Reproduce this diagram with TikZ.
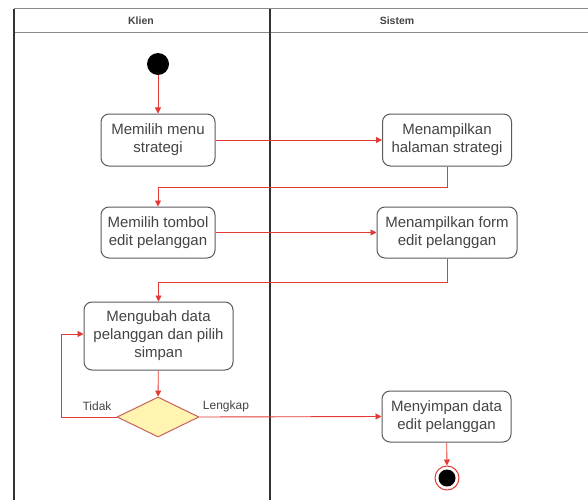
\documentclass[tikz,border=0pt]{standalone}
\usepackage{fontspec}
\setmainfont{Liberation Sans}
\usetikzlibrary{shapes.geometric,arrows.meta,calc}
\definecolor{arrowred}{HTML}{E53935}
\definecolor{boxgray}{HTML}{5A5A5A}
\definecolor{textgray}{HTML}{444444}
\definecolor{lanegray}{HTML}{8A8A8A}
\definecolor{lanedark}{HTML}{333333}
\definecolor{decfill}{HTML}{FFF4B0}
\definecolor{decdraw}{HTML}{C8615A}
\begin{document}
\begin{tikzpicture}[x=1pt,y=-1pt,
  act/.style={draw=boxgray, line width=1pt, rounded corners=8pt, fill=white, align=center,
    font=\fontsize{15}{18}\selectfont, text=textgray, inner sep=0pt, minimum height=52pt},
  flow/.style={draw=arrowred, line width=0.9pt, -{Triangle[length=6pt,width=6pt]}},
  lbl/.style={font=\fontsize{12}{14}\selectfont, text=textgray, inner sep=1pt},
  hdr/.style={font=\bfseries\fontsize{10.5}{12}\selectfont, text=textgray, inner sep=1pt},
]
\useasboundingbox (0,0) rectangle (588,500);
\fill[white] (0,0) rectangle (588,500);
% swimlanes
\draw[lanegray, line width=1pt] (14,9) -- (588,9);
\draw[lanegray, line width=1pt] (14,33) -- (588,33);
\draw[lanedark, line width=1.5pt] (14,9) -- (14,500);
\draw[lanedark, line width=1.5pt] (270,9) -- (270,500);
\node[hdr] (hk) at (141,21) {Klien};
\node[hdr] (hs) at (397,21) {Sistem};
% nodes
\node[circle, fill=black, minimum size=22pt, inner sep=0pt] (start) at (158,64) {};
\node[act, minimum width=114pt] (a1) at (158,140) {Memilih menu\\strategi};
\node[act, minimum width=129pt] (a2) at (447,140) {Menampilkan\\halaman strategi};
\node[act, minimum width=114pt, minimum height=51pt] (a3) at (158,232.5) {Memilih tombol\\edit pelanggan};
\node[act, minimum width=140pt, minimum height=51pt] (a4) at (447,232.5) {Menampilkan form\\edit pelanggan};
\node[act, minimum width=149pt, minimum height=68pt] (a5) at (158.5,336) {Mengubah data\\pelanggan dan pilih\\simpan};
\node[diamond, draw=decdraw, fill=decfill, line width=1pt, minimum width=82pt, minimum height=40pt, inner sep=0pt] (d) at (158,417) {};
\node[act, minimum width=129pt, minimum height=51pt] (a6) at (446.5,416.5) {Menyimpan data\\edit pelanggan};
\node[circle, draw=arrowred, fill=white, line width=1pt, minimum size=24pt, inner sep=0pt] (end) at (447,478) {};
\node[circle, fill=black, minimum size=17pt, inner sep=0pt] (endin) at (end) {};
% labels
\node[lbl] (tidak) at (97,406) {Tidak};
\node[lbl] (lengkap) at (226,406) {Lengkap};
% connectors
\draw[flow] (start) -- (a1);
\draw[flow] (a1) -- (a2);
\draw[flow] (a2.south) -- ++(0,21) -| (a3.north);
\draw[flow] (a3) -- (a4);
\draw[flow] (a4.south) -- ++(0,24) -| (a5.north);
\draw[flow] (a5) -- (d);
\draw[flow] (d.west) -- ++(-55,0) |- ([yshift=2pt]a5.west);
\draw[flow] (d.east) -- (a6.west);
\draw[flow] (a6) -- (end);
\end{tikzpicture}
\end{document}
